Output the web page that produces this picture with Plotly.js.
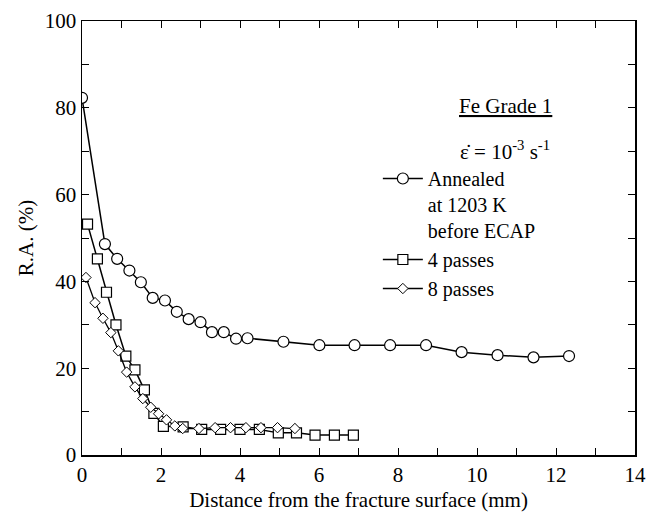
<!DOCTYPE html>
<html>
<head>
<meta charset="utf-8">
<script src="https://cdn.plot.ly/plotly-3.0.1.min.js"></script>
<style>html,body{margin:0;padding:0;background:#fff;}#chart{width:648px;height:521px;}</style>
</head>
<body>
<div id="chart"></div>
<script>
// Annealed at 1203 K before ECAP (circles)
const annealedX = [0, 0.58, 0.89, 1.2, 1.49, 1.79, 2.1, 2.4, 2.7, 3.0, 3.29, 3.59, 3.9, 4.19, 5.1, 6.01, 6.9, 7.8, 8.71, 9.61, 10.52, 11.43, 12.33];
const annealedY = [82.3, 48.6, 45.2, 42.5, 39.8, 36.2, 35.6, 33.0, 31.3, 30.6, 28.3, 28.3, 26.8, 26.9, 26.1, 25.3, 25.3, 25.3, 25.3, 23.7, 23.0, 22.5, 22.8];
// 4 passes (squares)
const pass4X = [0.14, 0.39, 0.62, 0.86, 1.11, 1.34, 1.58, 1.82, 2.06, 2.56, 3.03, 3.51, 4.0, 4.49, 4.97, 5.43, 5.9, 6.39, 6.87];
const pass4Y = [53.2, 45.2, 37.5, 30.0, 22.8, 19.6, 15.0, 9.6, 6.6, 6.5, 5.9, 5.9, 5.9, 5.9, 5.1, 5.1, 4.6, 4.6, 4.6];
// 8 passes (diamonds)
const pass8X = [0.1, 0.33, 0.53, 0.73, 0.92, 1.13, 1.34, 1.54, 1.74, 1.94, 2.14, 2.35, 2.55, 2.96, 3.37, 3.76, 4.15, 4.53, 4.95, 5.39];
const pass8Y = [40.9, 35.1, 31.5, 28.2, 24.0, 19.1, 15.7, 13.0, 11.0, 9.5, 8.1, 6.7, 6.1, 6.1, 6.3, 6.3, 6.3, 6.3, 6.3, 6.1];

const seriesNames = ["Annealed<br>at 1203 K<br>before ECAP", "4 passes", "8 passes"];
const xTitle = "Distance from the fracture surface (mm)";
const yTitle = "R.A. (%)";

const FONT = "Liberation Serif, Times New Roman, serif";

const traces = [
  {x: annealedX, y: annealedY, name: seriesNames[0], mode: "lines+markers",
   line: {color: "#000", width: 1.5},
   marker: {symbol: "circle", size: 11, color: "#fff", line: {color: "#000", width: 1.2}}},
  {x: pass4X, y: pass4Y, name: seriesNames[1], mode: "lines+markers",
   line: {color: "#000", width: 1.5},
   marker: {symbol: "square", size: 10, color: "#fff", line: {color: "#000", width: 1.2}}},
  {x: pass8X, y: pass8Y, name: seriesNames[2], mode: "lines+markers",
   line: {color: "#000", width: 1.3},
   marker: {symbol: "diamond", size: 8, color: "#fff", line: {color: "#000", width: 1}}}
];

const layout = {
  width: 648, height: 521,
  margin: {l: 82, r: 13, t: 21, b: 66},
  paper_bgcolor: "#fff", plot_bgcolor: "#fff",
  font: {family: FONT, size: 21, color: "#000"},
  showlegend: true,
  legend: {x: 0.535, y: 0.682, xanchor: "left", yanchor: "top", valign: "top",
           bgcolor: "rgba(0,0,0,0)", font: {family: FONT, size: 20, color: "#000"},
           tracegroupgap: 2, itemwidth: 40},
  xaxis: {range: [0, 14], dtick: 2, tick0: 0, showgrid: false, zeroline: false,
          showline: true, linecolor: "#000", linewidth: 1.5, mirror: "ticks",
          ticks: "inside", ticklen: 7, tickwidth: 1, tickcolor: "#000",
          minor: {dtick: 1, ticks: "inside", ticklen: 7, tickwidth: 1, tickcolor: "#000", showgrid: false},
          tickfont: {family: FONT, size: 21},
          title: {text: xTitle, font: {family: FONT, size: 21}, standoff: 6}},
  yaxis: {range: [0, 100], dtick: 20, tick0: 0, showgrid: false, zeroline: false,
          showline: true, linecolor: "#000", linewidth: 1.5, mirror: "ticks",
          ticks: "inside", ticklen: 7, tickwidth: 1, tickcolor: "#000",
          minor: {dtick: 10, ticks: "inside", ticklen: 7, tickwidth: 1, tickcolor: "#000", showgrid: false},
          tickfont: {family: FONT, size: 21},
          title: {text: yTitle, font: {family: FONT, size: 21}, standoff: 5}},
  annotations: [
    {xref: "paper", yref: "paper", x: (505 - 82) / 553, y: (455 - 106) / 434,
     text: "<u>Fe Grade 1</u>", showarrow: false, xanchor: "center", yanchor: "middle",
     font: {family: FONT, size: 21}},
    {xref: "paper", yref: "paper", x: (505 - 82) / 553, y: (455 - 150) / 434,
     text: "\u03B5\u0307 = 10<sup>-3</sup> s<sup>-1</sup>", showarrow: false, xanchor: "center", yanchor: "middle",
     font: {family: FONT, size: 21}}
  ]
};

Plotly.newPlot("chart", traces, layout, {displayModeBar: false, staticPlot: true});
</script>
</body>
</html>
